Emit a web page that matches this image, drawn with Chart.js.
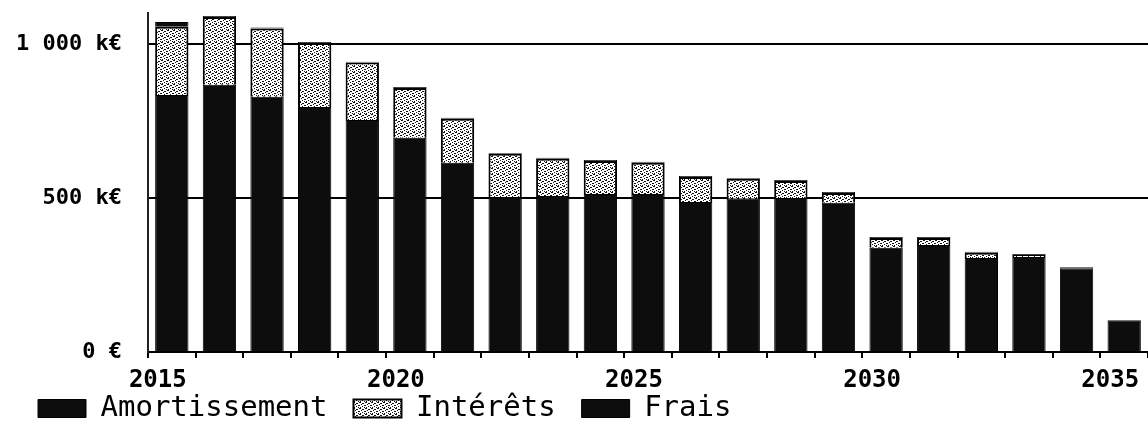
<!DOCTYPE html>
<html>
<head>
<meta charset="utf-8">
<script src="https://cdn.jsdelivr.net/npm/chart.js@4.4.0/dist/chart.umd.min.js"></script>
<style>
  html, body { margin: 0; padding: 0; background: #fff; }
  #wrap { width: 1148px; height: 421px; }
</style>
</head>
<body>
<div id="wrap"><canvas id="chart" width="1148" height="421"></canvas></div>
<script>
// years on the x axis
const years = ['2015','2016','2017','2018','2019','2020','2021','2022','2023','2024',
               '2025','2026','2027','2028','2029','2030','2031','2032','2033','2034','2035'];
// values in k€
const amortissement = [834, 867, 828, 795, 753, 695, 614, 503, 506, 513, 513, 487, 497, 500, 484, 338, 347, 305, 308, 272, 101];
const interets      = [221, 220, 222, 208, 186, 162, 143, 140, 121, 107, 101,  81,  65,  55,  32,  32,  23,  17,   7,   1,   0];
const frais         = [ 16,   3,   3,   3,   3,   3,   3,   3,   3,   3,   3,   3,   3,   3,   3,   3,   3,   3,   3,   3,   3];
const yTickValues = [0, 500, 1000];
const yTickLabels = ['0 €', '500 k€', '1 000 k€'];

// speckled fill for the interest segments
function speckle() {
  const c = document.createElement('canvas');
  c.width = 6; c.height = 6;
  const g = c.getContext('2d');
  g.fillStyle = '#ffffff';
  g.fillRect(0, 0, 6, 6);
  g.fillStyle = '#111111';
  const dots = [[0,0],[3,1],[1,2],[4,3],[5,3],[2,4],[0,5],[4,5],[2,1],[5,0]];
  dots.forEach(([x, y]) => g.fillRect(x, y, 1, 1));
  return g.createPattern(c, 'repeat');
}

const ctx = document.getElementById('chart');
const data = {
  labels: years,
  datasets: [
    { label: 'Amortissement', data: amortissement, backgroundColor: '#0d0d0d', borderColor: '#000', borderWidth: 1 },
    { label: 'Intérêts', data: interets, backgroundColor: speckle(), borderColor: '#000', borderWidth: 2 },
    { label: 'Frais', data: frais, backgroundColor: '#0d0d0d', borderColor: '#000', borderWidth: 1 }
  ]
};

new Chart(ctx, {
  type: 'bar',
  data,
  options: {
    responsive: false,
    animation: false,
    layout: { padding: { top: 13, right: 0, left: 12, bottom: 0 } },
    datasets: { bar: { categoryPercentage: 0.7, barPercentage: 1 } },
    scales: {
      x: {
        stacked: true,
        afterFit: axis => {
          axis.height = 16; axis.paddingLeft = 0; axis.paddingRight = 0;
          // the year labels hang over the legend strip, don't clip them to the axis box
          axis._computeLabelArea = () => undefined;
        },
        grid: { drawOnChartArea: false, drawTicks: true, tickLength: 6, color: '#000', lineWidth: 2 },
        border: { display: true, color: '#000', width: 2 },
        ticks: {
          autoSkip: false, maxRotation: 0, padding: 8, labelOffset: -14, color: '#000',
          font: { family: 'DejaVu Sans Mono', size: 24, weight: 'bold' },
          callback: function (v) { const y = this.getLabelForValue(v); return (+y % 5 === 0) ? y : ''; }
        }
      },
      y: {
        stacked: true,
        min: 0, max: 1100,
        afterBuildTicks: axis => { axis.ticks = yTickValues.map(v => ({ value: v })); },
        afterFit: axis => { axis.width = 136; axis.paddingTop = 0; axis.paddingBottom = 0; },
        grid: { color: '#000', lineWidth: 2, drawTicks: false },
        border: { display: true, color: '#222', width: 2 },
        ticks: {
          padding: 26, color: '#000', autoSkip: false,
          font: { family: 'DejaVu Sans Mono', size: 22, weight: 'bold' },
          callback: v => yTickLabels[yTickValues.indexOf(v)]
        }
      }
    },
    plugins: {
      tooltip: { enabled: false },
      legend: {
        position: 'bottom', align: 'start', maxHeight: 53,
        labels: {
          boxWidth: 48, boxHeight: 18, padding: 26, color: '#000',
          font: { family: 'DejaVu Sans Mono', size: 29 }
        }
      }
    }
  }
});
</script>
</body>
</html>
